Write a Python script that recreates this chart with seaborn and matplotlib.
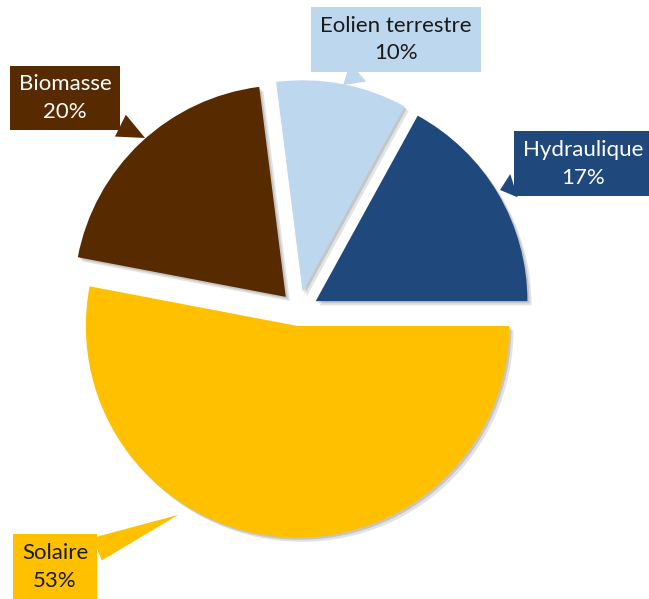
import numpy as np
import matplotlib
matplotlib.use("Agg")
import matplotlib.pyplot as plt
import matplotlib.patheffects as pe
import seaborn as sns

# data (counter-clockwise from 3 o'clock)
labels = ["Hydraulique", "Eolien terrestre", "Biomasse", "Solaire"]
shares = [17, 10, 20, 53]
colors = ["#1F497D", "#BDD7EE", "#582A00", "#FFC000"]
text_colors = ["white", "#1a1a1a", "white", "#1a1a1a"]
explode = [0.09, 0.09, 0.09, 0.07]

# label box centers and arrow targets (data coords, radius = 1)
box_xy = [(1.321, 0.684), (0.451, 1.262), (-1.088, 0.991), (-1.135, -1.191)]
tip_xy = [(0.935, 0.563), (0.205, 1.051), (-0.716, 0.805), (-0.563, -0.949)]

sns.set_theme(style="white")
plt.rcParams["font.family"] = ["Lato", "DejaVu Sans"]

fig = plt.figure(figsize=(6.49, 5.99), dpi=100)
ax = fig.add_axes([0, 0, 1, 1])

wedges, _ = ax.pie(shares, colors=colors, startangle=0, counterclock=True,
                   explode=explode, radius=0.985, center=(0, 0),
                   wedgeprops=dict(linewidth=0))
for w in wedges:
    w.set_path_effects([pe.SimplePatchShadow(offset=(3, -3), shadow_rgbFace="k", alpha=0.12),
                        pe.SimplePatchShadow(offset=(1.5, -1.5), shadow_rgbFace="k", alpha=0.15),
                        pe.Normal()])

for lab, s, c, tc, bxy, txy in zip(labels, shares, colors, text_colors, box_xy, tip_xy):
    ax.annotate(f"{lab}\n{s}%", xy=txy, xytext=bxy, ha="center", va="center",
                fontsize=16, color=tc, linespacing=1.45,
                bbox=dict(boxstyle="square,pad=0.4", fc=c, ec="none"),
                arrowprops=dict(arrowstyle="wedge,tail_width=1.1", fc=c, ec="none",
                                shrinkA=0, shrinkB=0))

ax.set_xlim(-1.391, 1.628)
ax.set_ylim(-1.340, 1.447)
ax.set_aspect("auto")
ax.axis("off")

fig.savefig("out.png", dpi=100)
